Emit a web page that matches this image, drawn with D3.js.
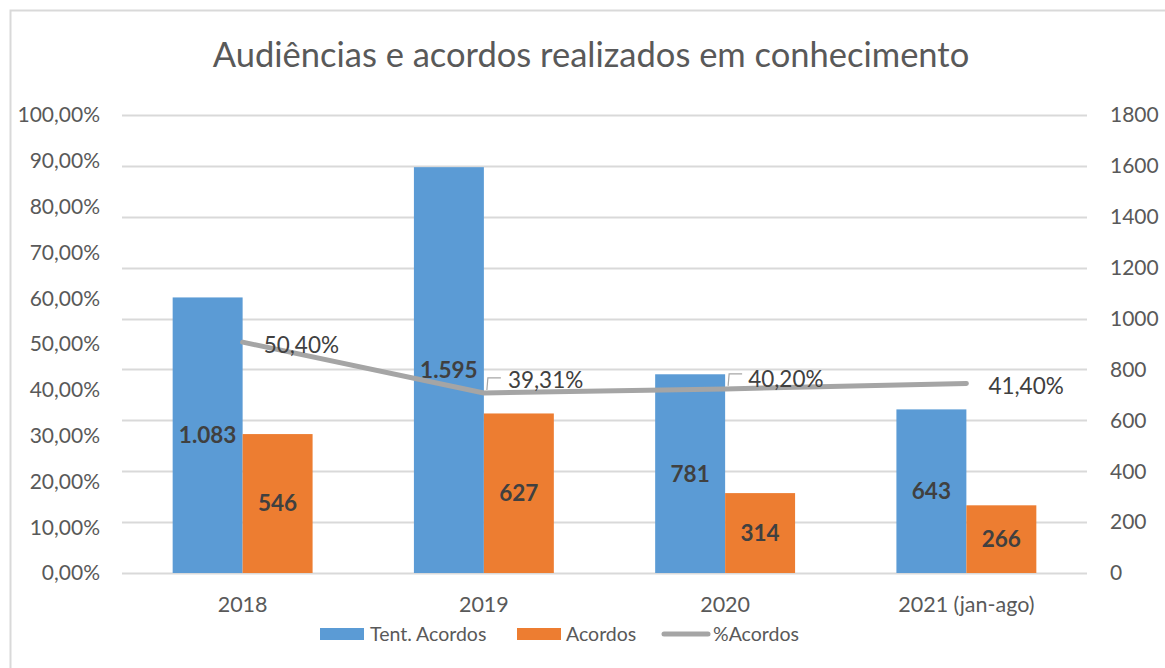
<!DOCTYPE html>
<html>
<head>
<meta charset="utf-8">
<script src="https://cdn.jsdelivr.net/npm/d3@7"></script>
<style>
  body { margin: 0; background: #fff; }
  svg text { font-family: Lato, "Open Sans", sans-serif; }
</style>
</head>
<body>
<div id="chart"></div>
<script>
const categories = ["2018", "2019", "2020", "2021 (jan-ago)"];
const tentAcordos = [1083, 1595, 781, 643];
const acordos = [546, 627, 314, 266];
const pctAcordos = [50.40, 39.31, 40.20, 41.40];
const leftTicks = [0, 10, 20, 30, 40, 50, 60, 70, 80, 90, 100];
const rightTicks = [0, 200, 400, 600, 800, 1000, 1200, 1400, 1600, 1800];

const W = 1165, H = 668;
const plot = { left: 122, right: 1087, top: 115, bottom: 573 };

const svg = d3.select("#chart").append("svg")
    .attr("width", W)
    .attr("height", H);

// chart border (only top/left visible in frame)
svg.append("rect")
    .attr("x", 10.5).attr("y", 10.5)
    .attr("width", W + 20).attr("height", H + 20)
    .attr("fill", "#fff")
    .attr("stroke", "#d9d9d9")
    .attr("stroke-width", 2);

svg.append("text")
    .attr("x", 591)
    .attr("y", 67)
    .attr("text-anchor", "middle")
    .attr("fill", "#595959")
    .style("font-size", "34.5px")
    .text("Audiências e acordos realizados em conhecimento");

const x0 = d3.scaleBand()
    .domain(categories)
    .range([plot.left, plot.right])
    .paddingInner(0.42)
    .paddingOuter(0.21);

const x1 = d3.scaleBand()
    .domain(["tent", "acordos"])
    .range([0, x0.bandwidth()]);

const yRight = d3.scaleLinear().domain([0, 1800]).range([plot.bottom, plot.top]);
const yLeft = d3.scaleLinear().domain([0, 100]).range([plot.bottom, plot.top]);

// gridlines (follow the secondary axis ticks)
svg.append("g")
    .attr("class", "grid")
    .selectAll("line")
    .data(rightTicks)
    .enter()
    .append("line")
    .attr("x1", plot.left)
    .attr("x2", plot.right)
    .attr("y1", d => Math.round(yRight(d)) + 0.5)
    .attr("y2", d => Math.round(yRight(d)) + 0.5)
    .attr("stroke", "#d9d9d9")
    .attr("stroke-width", 2);

const fmtPct = d => d.toFixed(2).replace(".", ",") + "%";

svg.append("g")
    .selectAll("text")
    .data(leftTicks)
    .enter()
    .append("text")
    .attr("x", 100)
    .attr("y", d => yLeft(d))
    .attr("dy", "0.35em")
    .attr("text-anchor", "end")
    .attr("fill", "#595959")
    .style("font-size", "21px")
    .text(fmtPct);

svg.append("g")
    .selectAll("text")
    .data(rightTicks)
    .enter()
    .append("text")
    .attr("x", 1110)
    .attr("y", d => yRight(d))
    .attr("dy", "0.35em")
    .attr("text-anchor", "start")
    .attr("fill", "#595959")
    .style("font-size", "21px")
    .text(d => d);

// category labels
svg.append("g")
    .selectAll("text")
    .data(categories)
    .enter()
    .append("text")
    .attr("x", d => x0(d) + x0.bandwidth() / 2)
    .attr("y", 604)
    .attr("dy", "0.35em")
    .attr("text-anchor", "middle")
    .attr("fill", "#595959")
    .style("font-size", "21.5px")
    .text(d => d);

const rows = categories.map((c, i) => ({
    cat: c,
    tent: tentAcordos[i],
    acordos: acordos[i],
    pct: pctAcordos[i]
}));

const colors = { tent: "#5b9bd5", acordos: "#ed7d31" };
const fmtNum = d3.formatLocale({ decimal: ",", thousands: ".", grouping: [3], currency: ["R$", ""] }).format(",d");

const groups = svg.append("g")
    .selectAll("g")
    .data(rows)
    .enter()
    .append("g")
    .attr("transform", d => `translate(${x0(d.cat)},0)`);

["tent", "acordos"].forEach(key => {
    groups.append("rect")
        .attr("x", x1(key))
        .attr("width", x1.bandwidth())
        .attr("y", d => yRight(d[key]))
        .attr("height", d => yRight(0) - yRight(d[key]))
        .attr("fill", colors[key]);

    groups.append("text")
        .attr("x", x1(key) + x1.bandwidth() / 2)
        .attr("y", d => (yRight(d[key]) + yRight(0)) / 2)
        .attr("dy", "0.35em")
        .attr("text-anchor", "middle")
        .attr("fill", "#404040")
        .style("font-size", "22.5px")
        .style("font-weight", "bold")
        .text(d => fmtNum(d[key]));
});

// %Acordos line
const cx = d => x0(d.cat) + x0.bandwidth() / 2;
const line = d3.line()
    .x(cx)
    .y(d => yLeft(d.pct));

svg.append("path")
    .datum(rows)
    .attr("d", line)
    .attr("fill", "none")
    .attr("stroke", "#a5a5a5")
    .attr("stroke-width", 5)
    .attr("stroke-linecap", "round")
    .attr("stroke-linejoin", "round");

// label placement relative to the point (dx, dy of label center), leader flag
const labelPos = [
    { dx: 21, dy: 3, leader: false },
    { dx: 24, dy: -13, leader: true },
    { dx: 23, dy: -10, leader: true },
    { dx: 22, dy: 3, leader: false }
];

rows.forEach((d, i) => {
    const px = cx(d), py = yLeft(d.pct), p = labelPos[i];
    if (p.leader) {
        svg.append("path")
            .attr("d", `M${px + 3},${py - 3} L${px + 4},${py - 15} L${px + 17},${py - 15}`)
            .attr("fill", "none")
            .attr("stroke", "#a6a6a6")
            .attr("stroke-width", 1.2);
    }
    svg.append("text")
        .attr("x", px + p.dx)
        .attr("y", py + p.dy)
        .attr("dy", "0.35em")
        .attr("fill", "#404040")
        .style("font-size", "22.5px")
        .text(fmtPct(d.pct));
});

// legend
const legend = svg.append("g").attr("transform", "translate(0,634)");
const legendItems = [
    { label: "Tent. Acordos", type: "rect", color: colors.tent, x: 320, tx: 370 },
    { label: "Acordos", type: "rect", color: colors.acordos, x: 517, tx: 566 },
    { label: "%Acordos", type: "line", color: "#a5a5a5", x: 662, tx: 713 }
];
legendItems.forEach(it => {
    if (it.type === "rect") {
        legend.append("rect")
            .attr("x", it.x).attr("y", -6)
            .attr("width", 44).attr("height", 12)
            .attr("fill", it.color);
    } else {
        legend.append("line")
            .attr("x1", it.x + 2).attr("x2", it.x + 46)
            .attr("y1", 0).attr("y2", 0)
            .attr("stroke", it.color)
            .attr("stroke-width", 5)
            .attr("stroke-linecap", "round");
    }
    legend.append("text")
        .attr("x", it.tx)
        .attr("y", 0)
        .attr("dy", "0.35em")
        .attr("fill", "#595959")
        .style("font-size", "19.5px")
        .text(it.label);
});
</script>
</body>
</html>
